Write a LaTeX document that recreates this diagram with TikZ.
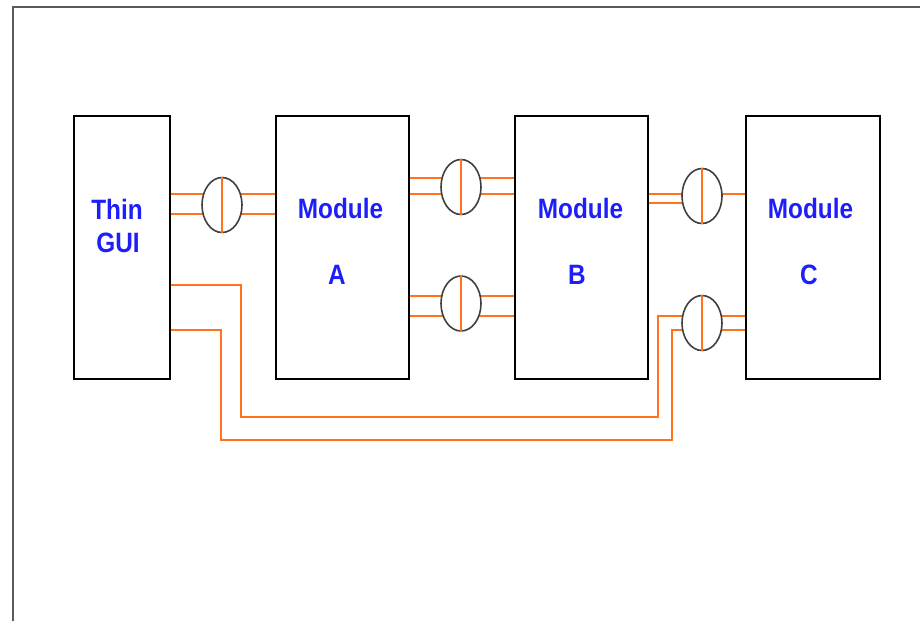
\documentclass[tikz,border=0pt]{standalone}
\usepackage{fontspec}
\newfontfamily\labfont{Liberation Sans}
\usetikzlibrary{shapes.geometric,backgrounds}
\definecolor{wire}{RGB}{255,115,30}
\definecolor{labblue}{RGB}{30,30,250}
\definecolor{framegray}{RGB}{90,90,90}
\newcommand{\lab}[1]{\scalebox{0.87}[1]{\labfont\fontsize{28}{30}\selectfont\bfseries #1}}
\tikzset{
  modbox/.style={draw=black, line width=1.5pt, fill=white, inner sep=0pt, minimum height=263pt},
  plug/.style={ellipse, draw=black!75, line width=1.6pt, fill=white, inner sep=0pt, minimum width=40pt, minimum height=55pt},
  wireline/.style={draw=wire, line width=1.7pt},
  txt/.style={text=labblue, anchor=base, inner sep=0pt},
  frameline/.style={draw=framegray, line width=2pt}
}
\begin{document}
\begin{tikzpicture}[x=1pt,y=-1pt]
\useasboundingbox (0,0) rectangle (920,621);
\draw[frameline] (13,621) -- (13,7) -- (920,7);
% boxes
\node[modbox, minimum width=96pt] (gui) at (122,247.5) {};
\node[modbox, minimum width=133pt] (ma) at (342.5,247.5) {};
\node[modbox, minimum width=133pt] (mb) at (581.5,247.5) {};
\node[modbox, minimum width=134pt] (mc) at (813,247.5) {};
% plugs
\node[plug] (e1) at (222,205) {};
\node[plug] (e2) at (461,187) {};
\node[plug] (e3) at (461,303.5) {};
\node[plug] (e4) at (702,196) {};
\node[plug] (e5) at (702,323) {};
\begin{scope}[on background layer]
\draw[wireline] (gui.east |- 0,194) -- (ma.west |- 0,194);
\draw[wireline] (gui.east |- 0,214) -- (ma.west |- 0,214);
\draw[wireline] (ma.east |- 0,178) -- (mb.west |- 0,178);
\draw[wireline] (ma.east |- 0,194) -- (mb.west |- 0,194);
\draw[wireline] (ma.east |- 0,296) -- (mb.west |- 0,296);
\draw[wireline] (ma.east |- 0,316) -- (mb.west |- 0,316);
\draw[wireline] (mb.east |- 0,194) -- (mc.west |- 0,194);
\draw[wireline] (mb.east |- 0,203) -- (e4.center |- 0,203);
\draw[wireline] (e5.center |- 0,316) -- (mc.west |- 0,316);
\draw[wireline] (e5.center |- 0,330) -- (mc.west |- 0,330);
\draw[wireline] (gui.east |- 0,285) -- (241,285) -- (241,417) -- (658,417) -- (658,316) -- (e5.center |- 0,316);
\draw[wireline] (gui.east |- 0,330) -- (221,330) -- (221,440) -- (672,440) -- (672,330) -- (e5.center |- 0,330);
\end{scope}
\draw[wireline] (e1.north) -- (e1.south);
\draw[wireline] (e2.north) -- (e2.south);
\draw[wireline] (e3.north) -- (e3.south);
\draw[wireline] (e4.north) -- (e4.south);
\draw[wireline] (e5.north) -- (e5.south);
% labels
\node[txt] (t1) at (117,219) {\lab{Thin}};
\node[txt] (t2) at (118,252) {\lab{GUI}};
\node[txt] (ta1) at (340.5,218) {\lab{Module}};
\node[txt] (ta2) at (337,284) {\lab{A}};
\node[txt] (tb1) at (580.5,218) {\lab{Module}};
\node[txt] (tb2) at (577,284) {\lab{B}};
\node[txt] (tc1) at (810.5,218) {\lab{Module}};
\node[txt] (tc2) at (809,284) {\lab{C}};
\end{tikzpicture}
\end{document}
